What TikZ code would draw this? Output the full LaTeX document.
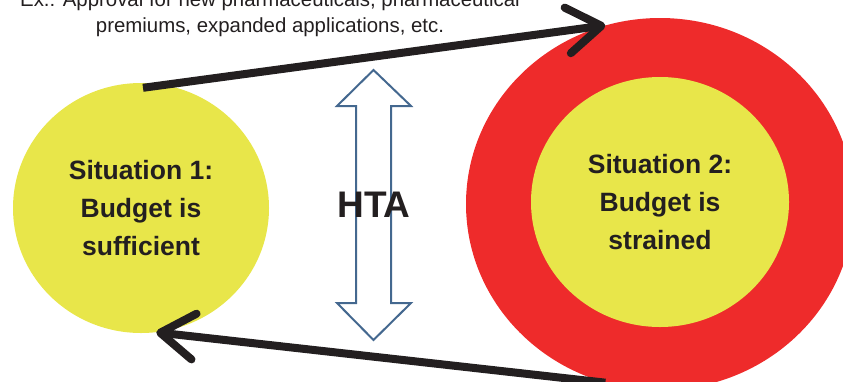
\documentclass[tikz,border=0pt]{standalone}
\usepackage{fontspec}
\setmainfont{Liberation Sans}
\usetikzlibrary{shapes.geometric,arrows.meta}
\definecolor{budgetyellow}{RGB}{232,230,74}
\definecolor{strainred}{RGB}{238,43,43}
\definecolor{htablue}{RGB}{68,104,143}
\definecolor{inkblack}{RGB}{35,31,32}

\begin{document}
\begin{tikzpicture}[x=1pt, y=-1pt,
    situation/.style={ellipse, fill=budgetyellow, inner sep=0pt, align=center,
      text=inkblack, font=\fontsize{26.5}{38}\selectfont\bfseries},
    flow/.style={line width=8pt, draw=inkblack,
      -{Straight Barb[length=34pt, width=46pt, round]}}]
    \useasboundingbox (0,0) rectangle (843,381);
    % situations
    \node[ellipse, fill=strainred, minimum width=388pt, minimum height=372pt] (ring) at (660,204) {};
    \node[situation, minimum width=256pt, minimum height=250pt] (sit1) at (141,208) {Situation 1:\\Budget is\\sufficient};
    \node[situation, minimum width=258pt, minimum height=250pt] (sit2) at (660,202) {Situation 2:\\Budget is\\strained};
    % HTA double arrow
    \draw[htablue, line width=2pt, fill=white, line join=miter]
      (373.5,70) -- (411,106) -- (391,106) -- (391,303) -- (411,303) -- (373.5,340)
      -- (337,303) -- (356,303) -- (356,106) -- (337,106) -- cycle;
    \node[text=inkblack, font=\fontsize{37}{37}\selectfont\bfseries] (hta) at (374,205) {HTA};
    % example text
    \node[text=inkblack, align=center, font=\fontsize{20.4}{26}\selectfont, anchor=base]
      (ex) at (270,32) {Ex.: Approval for new pharmaceuticals, pharmaceutical\\premiums, expanded applications, etc.};
    % flows
    \coordinate (up-start) at ([xshift=2pt, yshift=-5pt]sit1.north);
    \draw[flow] (up-start) -- (ring.107);
    \draw[flow] (ring.253) -- (sit1.277);
  \end{tikzpicture}
\end{document}
